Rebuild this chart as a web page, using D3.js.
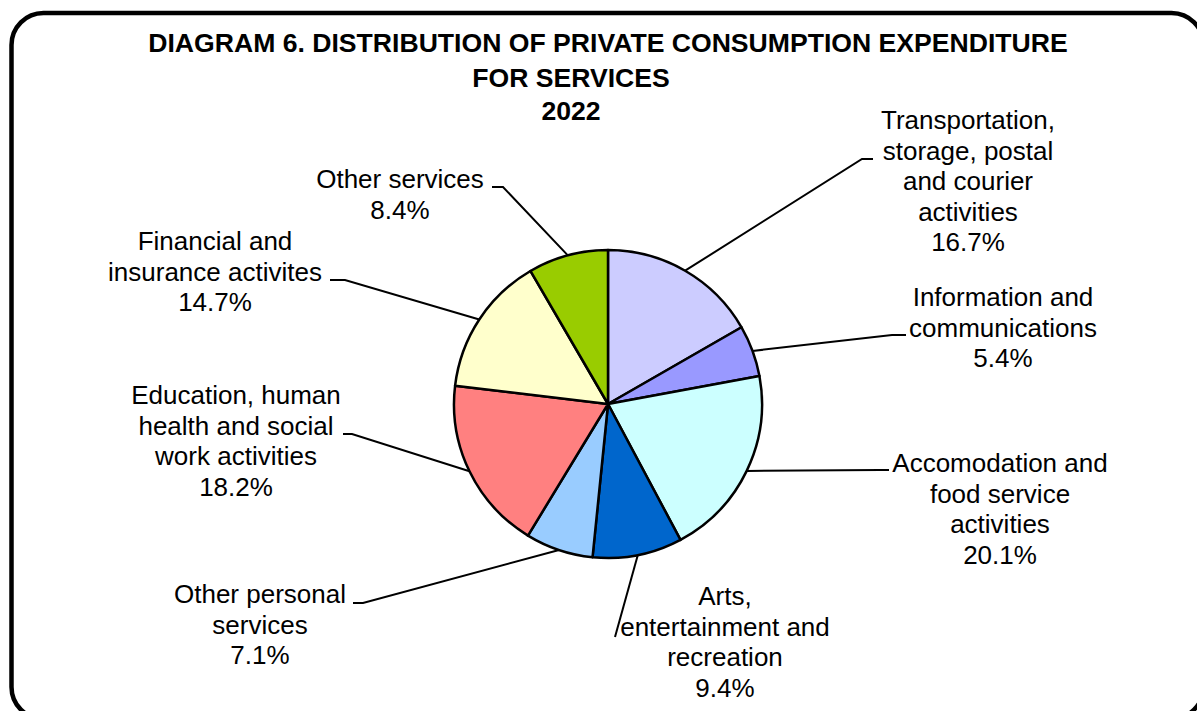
<!DOCTYPE html>
<html>
<head>
<meta charset="utf-8">
<script src="https://cdn.jsdelivr.net/npm/d3@7"></script>
<style>
  body { margin: 0; background: #fff; }
  svg { display: block; font-family: "Liberation Sans", Arial, sans-serif; }
</style>
</head>
<body>
<script>
// data
var categories = ["Transportation", "Information", "Accomodation", "Arts",
  "Other personal", "Education", "Financial", "Other services"];
var values = [16.7, 5.4, 20.1, 9.4, 7.1, 18.2, 14.7, 8.4];
var labelLines = [
  ["Transportation,", "storage, postal", "and courier", "activities"],
  ["Information and", "communications"],
  ["Accomodation and", "food service", "activities"],
  ["Arts,", "entertainment and", "recreation"],
  ["Other personal", "services"],
  ["Education, human", "health and social", "work activities"],
  ["Financial and", "insurance activites"],
  ["Other services"]
];
var titleLines = ["DIAGRAM 6. DISTRIBUTION OF PRIVATE CONSUMPTION EXPENDITURE", "FOR SERVICES", "2022"];

// styles / layout
var colors = ["#CCCCFF", "#9999FF", "#CCFFFF", "#0066CC", "#99CCFF", "#FF8080", "#FFFFCC", "#99CC00"];
var width = 1197, height = 711;
var cx = 608, cy = 404, radius = 154;
var lineH = 30.5;
// label anchor (centre x, first baseline) and leader knee / stub end
var layout = [
  { x: 968, y: 129, kx: 862, ky: 159, sx: 873 },
  { x: 1003, y: 306, kx: 892, ky: 335, sx: 906 },
  { x: 1000, y: 472, kx: 880, ky: 470, sx: 889 },
  { x: 725, y: 605, kx: 615, ky: 637, sx: 615 },
  { x: 260, y: 603, kx: 363, ky: 603, sx: 353 },
  { x: 236, y: 404, kx: 352, ky: 434, sx: 343 },
  { x: 215, y: 250, kx: 345, ky: 280, sx: 330 },
  { x: 400, y: 188, kx: 503, ky: 187, sx: 492 }
];

var svg = d3.select("body").append("svg")
  .attr("width", width)
  .attr("height", height);

// frame
svg.append("rect")
  .attr("x", 11.5).attr("y", 13)
  .attr("width", 1192).attr("height", 706)
  .attr("rx", 32).attr("ry", 32)
  .attr("fill", "#fff")
  .attr("stroke", "#000")
  .attr("stroke-width", 4.5);

// title
var titleX = [608, 571, 571], titleY = [52, 87, 120];
svg.selectAll("text.title")
  .data(titleLines)
  .enter()
  .append("text")
  .attr("class", "title")
  .attr("x", (d, i) => titleX[i])
  .attr("y", (d, i) => titleY[i])
  .attr("text-anchor", "middle")
  .attr("font-size", 26.6)
  .attr("font-weight", "bold")
  .text(d => d);

var pie = d3.pie().sort(null).value(d => d);
var arcs = pie(values);
var arc = d3.arc().innerRadius(0).outerRadius(radius);

var g = svg.append("g").attr("transform", `translate(${cx},${cy})`);

g.selectAll("path.slice")
  .data(arcs)
  .enter()
  .append("path")
  .attr("class", "slice")
  .attr("d", arc)
  .attr("fill", (d, i) => colors[i])
  .attr("stroke", "#000")
  .attr("stroke-width", 2.5)
  .attr("stroke-linejoin", "round");

// leader lines
svg.selectAll("polyline.leader")
  .data(arcs)
  .enter()
  .append("polyline")
  .attr("class", "leader")
  .attr("points", (d, i) => {
    var a = (d.startAngle + d.endAngle) / 2;
    var px = cx + radius * Math.sin(a), py = cy - radius * Math.cos(a);
    var L = layout[i];
    return [[px, py], [L.kx, L.ky], [L.sx, L.ky]].map(p => p.join(",")).join(" ");
  })
  .attr("fill", "none")
  .attr("stroke", "#000")
  .attr("stroke-width", 2);

// labels
var fmt = d3.format(".1f");
arcs.forEach(function (d, i) {
  var L = layout[i];
  var lines = labelLines[i].concat([fmt(values[i]) + "%"]);
  var t = svg.append("text")
    .attr("text-anchor", "middle")
    .attr("font-size", 26)
    .attr("fill", "#000");
  lines.forEach(function (s, j) {
    t.append("tspan")
      .attr("x", L.x)
      .attr("y", L.y + j * lineH)
      .text(s);
  });
});
</script>
</body>
</html>
